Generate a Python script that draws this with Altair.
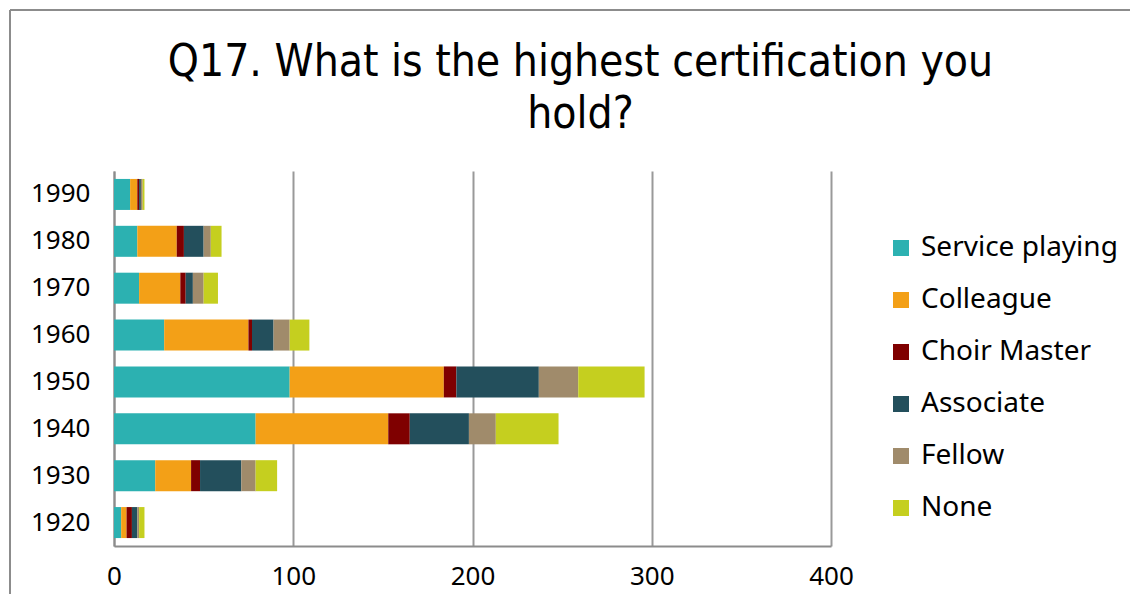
import altair as alt
import pandas as pd

years = ["1990", "1980", "1970", "1960", "1950", "1940", "1930", "1920"]
categories = ["Service playing", "Colleague", "Choir Master", "Associate", "Fellow", "None"]
colors = ["#2CB1B1", "#F3A017", "#7F0000", "#234F5C", "#A08B6B", "#C5CF1F"]

service_playing = [9, 13, 14, 28, 98, 79, 23, 4]
colleague = [4, 22, 23, 47, 86, 74, 20, 3]
choir_master = [1, 4, 3, 2, 7, 12, 5, 3]
associate = [1, 11, 4, 12, 46, 33, 23, 3]
fellow = [1, 4, 6, 9, 22, 15, 8, 1]
none_ = [1, 6, 8, 11, 37, 35, 12, 3]

series = [service_playing, colleague, choir_master, associate, fellow, none_]
rows = []
for ci, (cat, vals) in enumerate(zip(categories, series)):
    for y, v in zip(years, vals):
        rows.append({"Year": y, "Certification": cat, "Count": v, "order": ci})
df = pd.DataFrame(rows)

font = "Noto Sans"

bars = alt.Chart(df).mark_bar(size=31).encode(
    y=alt.Y("Year:N", sort=years, title=None,
            scale=alt.Scale(paddingInner=0.34, paddingOuter=0.17),
            axis=alt.Axis(labelFontSize=26, labelFont=font, labelColor="#000",
                          ticks=False, labelPadding=24, domainColor="#8c8c8c",
                          domainWidth=2)),
    x=alt.X("Count:Q", title=None,
            scale=alt.Scale(domain=[0, 400]),
            axis=alt.Axis(values=[0, 100, 200, 300, 400], labelFontSize=26,
                          labelFont=font, labelColor="#000", ticks=False,
                          labelFlush=False,
                          labelPadding=17, gridColor="#999999", gridWidth=2,
                          domainColor="#8c8c8c", domainWidth=2)),
    color=alt.Color("Certification:N",
                    scale=alt.Scale(domain=categories, range=colors),
                    legend=alt.Legend(title=None, orient="none", legendX=773,
                                      legendY=63, labelFontSize=28,
                                      labelFont=font, labelColor="#000",
                                      symbolType="square", symbolSize=256,
                                      symbolStrokeWidth=0, rowPadding=24,
                                      labelOffset=6, labelLimit=320)),
    order=alt.Order("order:Q", sort="ascending"),
)

frame_df = pd.DataFrame({"k": [0]})
frame_top = alt.Chart(frame_df).mark_rule(color="#8c8c8c", strokeWidth=2).encode(
    x=alt.value(-104), x2=alt.value(1030), y=alt.value(-161)
)
frame_left = alt.Chart(frame_df).mark_rule(color="#8c8c8c", strokeWidth=2).encode(
    x=alt.value(-104), y=alt.value(-161), y2=alt.value(440)
)

chart = alt.layer(frame_top, frame_left, bars).properties(
    width=717,
    height=375,
    title=alt.TitleParams(
        text=["Q17. What is the highest certification you", "hold?"],
        font="DejaVu Sans Condensed", fontSize=44, fontWeight="normal",
        color="#000", anchor="middle", dx=108, offset=0, dy=128, lineHeight=52,
    ),
    autosize=alt.AutoSizeParams(type="none"),
    padding={"left": 106, "top": 163, "right": 299, "bottom": 48},
).configure_view(stroke=None)

chart.save("out.html", embed_options={"renderer": "svg", "actions": False})
